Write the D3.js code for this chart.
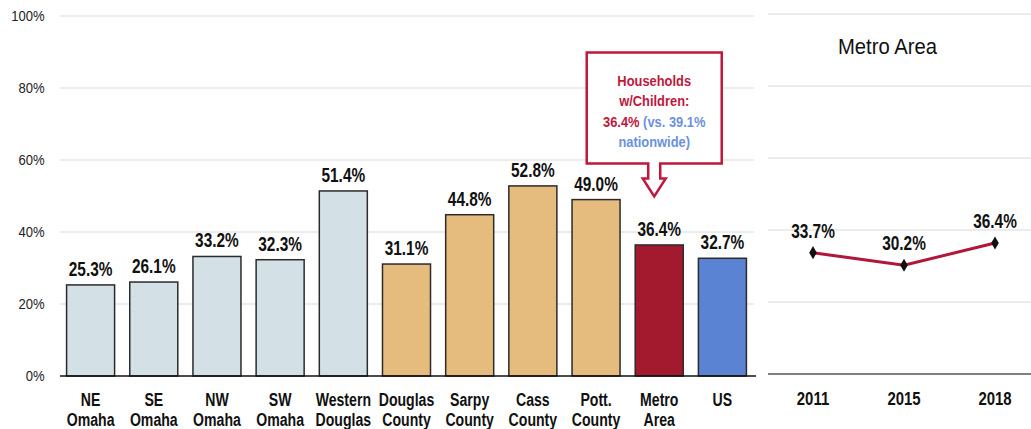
<!DOCTYPE html>
<html>
<head>
<meta charset="utf-8">
<script src="https://cdn.jsdelivr.net/npm/d3@7"></script>
<style>
  html, body { margin: 0; padding: 0; background: #fff; }
  svg { display: block; }
  text { font-family: "Liberation Sans", Arial, Helvetica, sans-serif; }
</style>
</head>
<body>
<svg id="chart" width="1031" height="429"></svg>
<script>
// Share of households with children, by area
const areas = [
  ["NE", "Omaha"], ["SE", "Omaha"], ["NW", "Omaha"], ["SW", "Omaha"],
  ["Western", "Douglas"], ["Douglas", "County"], ["Sarpy", "County"],
  ["Cass", "County"], ["Pott.", "County"], ["Metro", "Area"], ["US"]
];
const areaValues = [25.3, 26.1, 33.2, 32.3, 51.4, 31.1, 44.8, 52.8, 49.0, 36.4, 32.7];
const areaGroups = ["omaha", "omaha", "omaha", "omaha", "omaha", "county", "county", "county", "county", "metro", "us"];
const yTicks = [0, 20, 40, 60, 80, 100];

// Metro area trend
const years = ["2011", "2015", "2018"];
const metroTrend = [33.7, 30.2, 36.4];

const calloutLines = [
  [{ t: "Households", c: "red" }],
  [{ t: "w/Children:", c: "red" }],
  [{ t: "36.4%", c: "red" }, { t: " (vs. 39.1%", c: "blue" }],
  [{ t: "nationwide)", c: "blue" }]
];

const fills = { omaha: "#d3e0e6", county: "#e5bc7e", metro: "#a3192e", us: "#5b83d3" };
const textColors = { red: "#c0183c", blue: "#6a92dc" };

const svg = d3.select("#chart");
const labelKey = d => d.join(" ");

// Places text at (px, py) and squeezes it horizontally for a condensed look
function place(sel, px, py, sx) {
  sel.attr("transform", (d, i) => {
    const xx = typeof px === "function" ? px(d, i) : px;
    const yy = typeof py === "function" ? py(d, i) : py;
    return `translate(${xx},${yy}) scale(${sx},1)`;
  });
  return sel;
}

// ---- bar panel ----
const x = d3.scaleBand().domain(areas.map(labelKey)).range([59, 754])
  .paddingInner(0.24).paddingOuter(0.12);
const y = d3.scaleLinear().domain([0, 100]).range([376, 16]);
const mid = d => x(labelKey(d)) + x.bandwidth() / 2;

svg.append("g").selectAll("line").data(yTicks.filter(d => d > 0)).join("line")
  .attr("x1", 60).attr("x2", 754)
  .attr("y1", d => y(d)).attr("y2", d => y(d))
  .attr("stroke", "#e6e6e6").attr("stroke-width", 1.5);

place(svg.append("g").selectAll("text").data(yTicks).join("text"), 44.5, d => y(d), 0.9)
  .attr("dy", "0.35em")
  .attr("text-anchor", "end").attr("font-size", 14.5).attr("fill", "#222")
  .text(d => d + "%");

svg.append("g").selectAll("rect").data(areas).join("rect")
  .attr("x", d => x(labelKey(d)))
  .attr("y", (d, i) => y(areaValues[i]))
  .attr("width", x.bandwidth())
  .attr("height", (d, i) => y(0) - y(areaValues[i]))
  .attr("fill", (d, i) => fills[areaGroups[i]])
  .attr("stroke", "#2b2b2b").attr("stroke-width", 1.5);

svg.append("line").attr("x1", 60).attr("x2", 756)
  .attr("y1", y(0)).attr("y2", y(0)).attr("stroke", "#111").attr("stroke-width", 1.5);

place(svg.append("g").selectAll("text").data(areas).join("text"),
  mid, (d, i) => y(areaValues[i]) - 9, 0.79)
  .attr("text-anchor", "middle").attr("font-size", 19.5).attr("font-weight", "bold")
  .attr("fill", "#111")
  .text((d, i) => areaValues[i].toFixed(1) + "%");

const cats = place(svg.append("g").selectAll("text").data(areas).join("text"), mid, 405.5, 0.77)
  .attr("text-anchor", "middle").attr("font-size", 18.3).attr("font-weight", "bold")
  .attr("fill", "#111");
cats.selectAll("tspan").data(d => d).join("tspan")
  .attr("x", 0).attr("y", (d, i) => i * 21)
  .text(d => d);

// ---- callout ----
const cx = x("Metro Area") + x.bandwidth() / 2 - 5;
const box = { l: cx - 67.5, r: cx + 67.5, t: 52.5, b: 163.5 };
const stem = 6, head = 11.5;
const calloutPath = d3.path();
calloutPath.moveTo(box.l, box.t);
calloutPath.lineTo(box.r, box.t);
calloutPath.lineTo(box.r, box.b);
calloutPath.lineTo(cx + stem, box.b);
calloutPath.lineTo(cx + stem, box.b + 15);
calloutPath.lineTo(cx + head, box.b + 15);
calloutPath.lineTo(cx, box.b + 33);
calloutPath.lineTo(cx - head, box.b + 15);
calloutPath.lineTo(cx - stem, box.b + 15);
calloutPath.lineTo(cx - stem, box.b);
calloutPath.lineTo(box.l, box.b);
calloutPath.closePath();
svg.append("path").attr("d", calloutPath.toString())
  .attr("fill", "#fff").attr("stroke", "#c0183c").attr("stroke-width", 2.5)
  .attr("stroke-linejoin", "miter");

const ct = place(svg.append("g").selectAll("text").data(calloutLines).join("text"),
  cx, (d, i) => 85.5 + i * 20.5, 0.86)
  .attr("text-anchor", "middle").attr("font-size", 15).attr("font-weight", "bold");
ct.selectAll("tspan").data(d => d).join("tspan")
  .attr("fill", d => textColors[d.c]).text(d => d.t);

// ---- trend panel ----
const x2 = d3.scalePoint().domain(years).range([813, 995]);
const y2 = d3.scaleLinear().domain([0, 100]).range([374, 14]);

svg.append("g").selectAll("line").data(yTicks.filter(d => d > 0)).join("line")
  .attr("x1", 768).attr("x2", 1031)
  .attr("y1", d => y2(d)).attr("y2", d => y2(d))
  .attr("stroke", "#e6e6e6").attr("stroke-width", 1.5);

svg.append("line").attr("x1", 768).attr("x2", 1031)
  .attr("y1", y2(0)).attr("y2", y2(0)).attr("stroke", "#555").attr("stroke-width", 1.5);

place(svg.append("text"), 887.5, 54, 0.9)
  .attr("text-anchor", "middle")
  .attr("font-size", 22.5).attr("fill", "#111").text("Metro Area");

const line = d3.line().x((d, i) => x2(years[i])).y(d => y2(d));
svg.append("path").datum(metroTrend).attr("d", line)
  .attr("fill", "none").attr("stroke", "#b0173a").attr("stroke-width", 3);

svg.append("g").selectAll("path").data(metroTrend).join("path")
  .attr("d", d3.symbol(d3.symbolDiamond, 50))
  .attr("transform", (d, i) => `translate(${x2(years[i])},${y2(d)})`)
  .attr("fill", "#111");

place(svg.append("g").selectAll("text").data(metroTrend).join("text"),
  (d, i) => x2(years[i]), d => y2(d) - 15, 0.79)
  .attr("text-anchor", "middle").attr("font-size", 19.5).attr("font-weight", "bold")
  .attr("fill", "#111").text(d => d.toFixed(1) + "%");

place(svg.append("g").selectAll("text").data(years).join("text"), d => x2(d), 404.5, 0.83)
  .attr("text-anchor", "middle").attr("font-size", 18).attr("font-weight", "bold")
  .attr("fill", "#111").text(d => d);
</script>
</body>
</html>
